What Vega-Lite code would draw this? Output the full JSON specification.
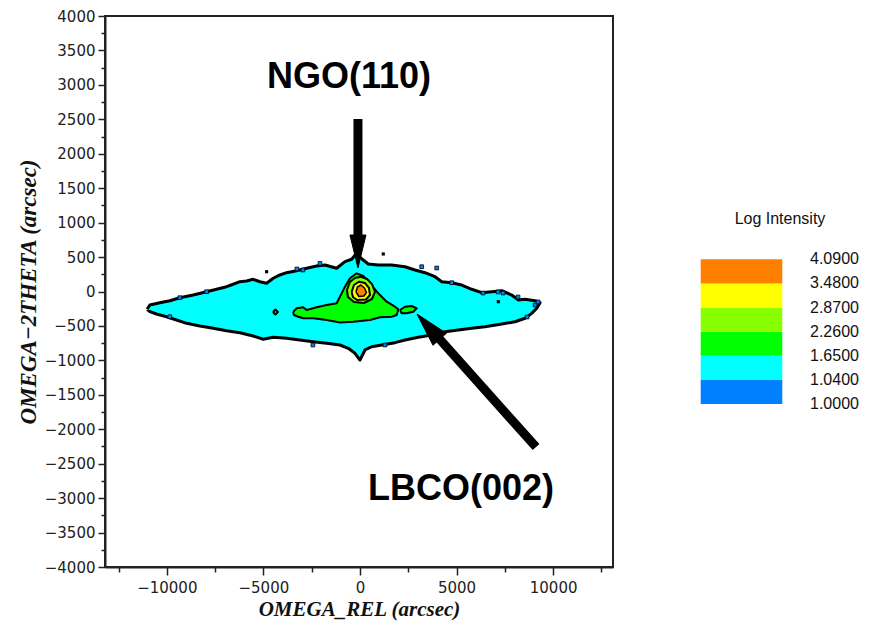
{
  "$schema": "https://vega.github.io/schema/vega-lite/v6.json",
  "width": 508,
  "height": 551,
  "autosize": {"type": "none"},
  "padding": {"left": 105, "top": 16, "right": 258, "bottom": 56},
  "background": "white",
  "config": {
    "view": {"stroke": "#222", "strokeWidth": 2},
    "axis": {
      "domainColor": "#222", "domainWidth": 2, "tickColor": "#222", "tickWidth": 1.5,
      "labelColor": "#222", "labelFont": "DejaVu Sans", "labelFontSize": 15,
      "titleFont": "Liberation Serif", "titleFontStyle": "italic", "titleFontWeight": "bold",
      "titleColor": "#111", "grid": false, "labelOverlap": false, "labelFlush": false
    }
  },
  "datasets": {
    "cyan": [
      {"o":1,"x":-11018,"y":-258},{"o":2,"x":-10878,"y":-196},{"o":3,"x":-10360,"y":-163},{"o":4,"x":-9842,"y":-134},
      {"o":5,"x":-9324,"y":-90},{"o":6,"x":-8635,"y":-51},{"o":7,"x":-7941,"y":-3},{"o":8,"x":-7423,"y":32},
      {"o":9,"x":-6905,"y":70},{"o":10,"x":-6563,"y":105},{"o":11,"x":-6216,"y":142},{"o":12,"x":-5869,"y":152},
      {"o":13,"x":-5527,"y":177},{"o":14,"x":-5180,"y":142},{"o":15,"x":-4833,"y":119},{"o":16,"x":-4491,"y":192},
      {"o":17,"x":-4144,"y":240},{"o":18,"x":-3797,"y":273},{"o":19,"x":-3279,"y":302},{"o":20,"x":-2761,"y":337},
      {"o":21,"x":-2243,"y":370},{"o":22,"x":-1813,"y":385},{"o":23,"x":-1207,"y":337},{"o":24,"x":-777,"y":433},
      {"o":25,"x":-430,"y":468},{"o":26,"x":-207,"y":545},{"o":27,"x":0,"y":501},{"o":28,"x":171,"y":457},
      {"o":29,"x":430,"y":399},{"o":30,"x":948,"y":385},{"o":31,"x":1642,"y":385},{"o":32,"x":2331,"y":360},
      {"o":33,"x":2849,"y":312},{"o":34,"x":3367,"y":273},{"o":35,"x":3885,"y":215},{"o":36,"x":4232,"y":142},
      {"o":37,"x":4750,"y":128},{"o":38,"x":5268,"y":94},{"o":39,"x":5786,"y":32},{"o":40,"x":6304,"y":-17},
      {"o":41,"x":6822,"y":-3},{"o":42,"x":7340,"y":12},{"o":43,"x":7858,"y":-51},{"o":44,"x":8200,"y":-123},
      {"o":45,"x":8547,"y":-113},{"o":46,"x":9065,"y":-134},{"o":47,"x":9324,"y":-163},{"o":48,"x":9153,"y":-244},
      {"o":49,"x":8894,"y":-317},{"o":50,"x":8547,"y":-389},{"o":51,"x":8029,"y":-439},{"o":52,"x":7340,"y":-472},
      {"o":53,"x":6475,"y":-511},{"o":54,"x":5786,"y":-534},{"o":55,"x":5092,"y":-559},{"o":56,"x":4403,"y":-584},
      {"o":57,"x":3714,"y":-632},{"o":58,"x":3020,"y":-665},{"o":59,"x":2331,"y":-704},{"o":60,"x":1813,"y":-743},
      {"o":61,"x":1124,"y":-777},{"o":62,"x":606,"y":-802},{"o":63,"x":259,"y":-849},{"o":64,"x":0,"y":-995},
      {"o":65,"x":-259,"y":-897},{"o":66,"x":-606,"y":-825},{"o":67,"x":-1036,"y":-777},{"o":68,"x":-1725,"y":-752},
      {"o":69,"x":-2419,"y":-729},{"o":70,"x":-3108,"y":-704},{"o":71,"x":-3797,"y":-680},{"o":72,"x":-4491,"y":-665},
      {"o":73,"x":-5009,"y":-694},{"o":74,"x":-5527,"y":-646},{"o":75,"x":-6216,"y":-598},{"o":76,"x":-6905,"y":-569},
      {"o":77,"x":-7599,"y":-534},{"o":78,"x":-8288,"y":-501},{"o":79,"x":-8977,"y":-462},{"o":80,"x":-9495,"y":-414},
      {"o":81,"x":-10013,"y":-366},{"o":82,"x":-10531,"y":-327},{"o":83,"x":-10878,"y":-293},{"o":84,"x":-11018,"y":-258}
    ],
    "blue": [
      {"x":-2072,"y":407},{"x":-3263,"y":327},{"x":-2953,"y":312},{"x":4750,"y":128},{"x":6371,"y":-22},
      {"x":7148,"y":-7},{"x":7407,"y":-22},{"x":8184,"y":-80},{"x":8651,"y":-370},{"x":9065,"y":-196},
      {"x":9220,"y":-152},{"x":-2435,"y":-777},{"x":1295,"y":-777},{"x":3196,"y":360},{"x":3973,"y":341},
      {"x":-9324,"y":-90},{"x":-9842,"y":-366},{"x":-7941,"y":-3}
    ],
    "specks": [
      {"x":-4833,"y":287},{"x":1207,"y":545},{"x":7164,"y":-148}
    ],
    "green": [
      {"p":"m","o":1,"x":-3455,"y":-293},{"p":"m","o":2,"x":-3279,"y":-244},{"p":"m","o":3,"x":-2937,"y":-229},
      {"p":"m","o":4,"x":-2761,"y":-269},{"p":"m","o":5,"x":-2243,"y":-229},{"p":"m","o":6,"x":-1725,"y":-196},
      {"p":"m","o":7,"x":-1207,"y":-171},{"p":"m","o":8,"x":-1036,"y":-76},{"p":"m","o":9,"x":-777,"y":70},
      {"p":"m","o":10,"x":-518,"y":192},{"p":"m","o":11,"x":-171,"y":264},{"p":"m","o":12,"x":171,"y":225},
      {"p":"m","o":13,"x":518,"y":119},{"p":"m","o":14,"x":948,"y":-26},{"p":"m","o":15,"x":1383,"y":-148},
      {"p":"m","o":16,"x":1813,"y":-221},{"p":"m","o":17,"x":1984,"y":-258},{"p":"m","o":18,"x":1901,"y":-341},
      {"p":"m","o":19,"x":1642,"y":-366},{"p":"m","o":20,"x":1036,"y":-375},{"p":"m","o":21,"x":518,"y":-414},
      {"p":"m","o":22,"x":-347,"y":-439},{"p":"m","o":23,"x":-1036,"y":-450},{"p":"m","o":24,"x":-1725,"y":-414},
      {"p":"m","o":25,"x":-2419,"y":-389},{"p":"m","o":26,"x":-2937,"y":-389},{"p":"m","o":27,"x":-3196,"y":-366},
      {"p":"m","o":28,"x":-3419,"y":-341},{"p":"m","o":29,"x":-3455,"y":-293},
      {"p":"b","o":1,"x":2072,"y":-269},{"p":"b","o":2,"x":2331,"y":-221},{"p":"b","o":3,"x":2678,"y":-211},
      {"p":"b","o":4,"x":2937,"y":-244},{"p":"b","o":5,"x":2761,"y":-293},{"p":"b","o":6,"x":2418,"y":-317},
      {"p":"b","o":7,"x":2159,"y":-317},{"p":"b","o":8,"x":2072,"y":-269},
      {"p":"d","o":1,"x":-4507,"y":-298},{"p":"d","o":2,"x":-4377,"y":-261},{"p":"d","o":3,"x":-4248,"y":-298},
      {"p":"d","o":4,"x":-4377,"y":-334},{"p":"d","o":5,"x":-4507,"y":-298}
    ],
    "yg": [
      {"o":1,"x":-673,"y":22},{"o":2,"x":-518,"y":138},{"o":3,"x":-259,"y":196},{"o":4,"x":52,"y":215},
      {"o":5,"x":363,"y":182},{"o":6,"x":622,"y":109},{"o":7,"x":777,"y":-7},{"o":8,"x":622,"y":-109},
      {"o":9,"x":207,"y":-167},{"o":10,"x":-311,"y":-152},{"o":11,"x":-622,"y":-80},{"o":12,"x":-673,"y":22}
    ],
    "yellow": [
      {"o":1,"x":-430,"y":-7},{"o":2,"x":-311,"y":94},{"o":3,"x":-52,"y":142},{"o":4,"x":259,"y":123},
      {"o":5,"x":466,"y":51},{"o":6,"x":518,"y":-51},{"o":7,"x":311,"y":-116},{"o":8,"x":-155,"y":-123},
      {"o":9,"x":-363,"y":-80},{"o":10,"x":-430,"y":-7}
    ],
    "orange": [
      {"o":1,"x":-207,"y":-7},{"o":2,"x":-130,"y":65},{"o":3,"x":52,"y":94},{"o":4,"x":233,"y":51},
      {"o":5,"x":337,"y":-15},{"o":6,"x":207,"y":-65},{"o":7,"x":-52,"y":-73},{"o":8,"x":-207,"y":-7}
    ],
    "shafts": [
      {"x":-104,"y":2505,"x2":-104,"y2":700},
      {"x":9117,"y":-2259,"x2":3854,"y2":-607}
    ],
    "heads": [
      {"p":"n","o":1,"x":-518,"y":820},{"p":"n","o":2,"x":311,"y":820},{"p":"n","o":3,"x":-104,"y":341},{"p":"n","o":4,"x":-518,"y":820},
      {"p":"l","o":1,"x":2953,"y":-327},{"p":"l","o":2,"x":4476,"y":-607},{"p":"l","o":3,"x":3781,"y":-781},{"p":"l","o":4,"x":2953,"y":-327}
    ],
    "notes": [
      {"x":-570,"y":2950,"t":"NGO(110)"},
      {"x":5232,"y":-3027,"t":"LBCO(002)"}
    ],
    "bands": [
      {"lo":0,"hi":1,"b":"1.0000-1.0400"},{"lo":1,"hi":2,"b":"1.0400-1.6500"},{"lo":2,"hi":3,"b":"1.6500-2.2600"},
      {"lo":3,"hi":4,"b":"2.2600-2.8700"},{"lo":4,"hi":5,"b":"2.8700-3.4800"},{"lo":5,"hi":6,"b":"3.4800-4.0900"}
    ],
    "ticks": [
      {"v":0,"t":"1.0000"},{"v":1,"t":"1.0400"},{"v":2,"t":"1.6500"},{"v":3,"t":"2.2600"},
      {"v":4,"t":"2.8700"},{"v":5,"t":"3.4800"},{"v":6,"t":"4.0900"}
    ],
    "ltitle": [{"t":"Log Intensity"}]
  },
  "layer": [
    {
      "encoding": {
        "x": {"field": "x", "type": "quantitative", "scale": {"domain": [-13200, 13100], "nice": false, "zero": false},
          "axis": {"title": "OMEGA_REL (arcsec)", "titleFontSize": 21, "values": [-12500,-10000,-7500,-5000,-2500,0,2500,5000,7500,10000,12500],
            "format": "d", "labelExpr": "datum.value % 5000 === 0 ? datum.label : ''",
            "tickSize": {"condition": {"test": "datum.value % 5000 === 0", "value": 8}, "value": 5},
            "labelPadding": 5, "titlePadding": 3}},
        "y": {"field": "y", "type": "quantitative", "scale": {"domain": [-4000, 4000], "nice": false, "zero": false},
          "axis": {"title": "OMEGA−2THETA (arcsec)", "titleFontSize": 23,
            "values": [-4000,-3750,-3500,-3250,-3000,-2750,-2500,-2250,-2000,-1750,-1500,-1250,-1000,-750,-500,-250,0,250,500,750,1000,1250,1500,1750,2000,2250,2500,2750,3000,3250,3500,3750,4000],
            "format": "d", "labelExpr": "datum.value % 500 === 0 ? datum.label : ''",
            "tickSize": {"condition": {"test": "datum.value % 500 === 0", "value": 7}, "value": 4},
            "labelPadding": 3, "titlePadding": 4}}
      },
      "layer": [
        {
          "data": {"name": "cyan"},
          "mark": {"type": "line", "fill": "#00ffff", "stroke": "#000", "strokeWidth": 3, "strokeJoin": "round"},
          "encoding": {"order": {"field": "o", "type": "quantitative"}}
        },
        {
          "data": {"name": "blue"},
          "mark": {"type": "point", "shape": "square", "filled": true, "fill": "#0080ff", "stroke": "#000", "strokeWidth": 0.8, "size": 14, "opacity": 1}
        },
        {
          "data": {"name": "specks"},
          "mark": {"type": "point", "shape": "square", "filled": true, "fill": "#000", "size": 10, "opacity": 1}
        },
        {
          "data": {"name": "green"},
          "mark": {"type": "line", "fill": "#00ff00", "stroke": "#000", "strokeWidth": 2, "strokeJoin": "round"},
          "encoding": {"order": {"field": "o", "type": "quantitative"}, "detail": {"field": "p"}}
        },
        {
          "data": {"name": "yg"},
          "mark": {"type": "line", "fill": "#88ff00", "stroke": "#000", "strokeWidth": 2, "strokeJoin": "round"},
          "encoding": {"order": {"field": "o", "type": "quantitative"}}
        },
        {
          "data": {"name": "yellow"},
          "mark": {"type": "line", "fill": "#ffff00", "stroke": "#000", "strokeWidth": 2, "strokeJoin": "round"},
          "encoding": {"order": {"field": "o", "type": "quantitative"}}
        },
        {
          "data": {"name": "orange"},
          "mark": {"type": "line", "fill": "#ff8000", "stroke": "#000", "strokeWidth": 1.5, "strokeJoin": "round"},
          "encoding": {"order": {"field": "o", "type": "quantitative"}}
        },
        {
          "data": {"name": "shafts"},
          "mark": {"type": "rule", "color": "#000", "strokeWidth": 9, "strokeCap": "butt"},
          "encoding": {"x2": {"field": "x2"}, "y2": {"field": "y2"}}
        },
        {
          "data": {"name": "heads"},
          "mark": {"type": "line", "fill": "#000", "stroke": "#000", "strokeWidth": 1, "strokeJoin": "miter"},
          "encoding": {"order": {"field": "o", "type": "quantitative"}, "detail": {"field": "p"}}
        },
        {
          "data": {"name": "notes"},
          "mark": {"type": "text", "font": "Liberation Sans", "fontWeight": "bold", "fontSize": 36, "align": "center", "baseline": "alphabetic", "color": "#000"},
          "encoding": {"text": {"field": "t"}}
        }
      ]
    },
    {
      "layer": [
        {
          "data": {"name": "bands"},
          "mark": {"type": "rect"},
          "encoding": {
            "y": {"field": "lo", "type": "quantitative", "scale": {"domain": [-6.759, 16.089], "nice": false, "zero": false}, "axis": null},
            "y2": {"field": "hi"},
            "x": {"datum": 0, "type": "quantitative", "scale": {"domain": [-7.3002, -1.0747], "nice": false, "zero": false}, "axis": null},
            "x2": {"datum": 1},
            "color": {"field": "b", "type": "nominal", "legend": null,
              "scale": {"domain": ["1.0000-1.0400","1.0400-1.6500","1.6500-2.2600","2.2600-2.8700","2.8700-3.4800","3.4800-4.0900"],
                "range": ["#0080ff","#00ffff","#00ff00","#88ff00","#ffff00","#ff8000"]}}
          }
        },
        {
          "data": {"name": "ticks"},
          "mark": {"type": "text", "font": "Liberation Sans", "fontSize": 16, "align": "left", "baseline": "middle", "color": "#111"},
          "encoding": {
            "y": {"field": "v", "type": "quantitative", "scale": {"domain": [-6.759, 16.089], "nice": false, "zero": false}, "axis": null},
            "x": {"datum": 1.3395, "type": "quantitative", "scale": {"domain": [-7.3002, -1.0747], "nice": false, "zero": false}, "axis": null},
            "text": {"field": "t"}
          }
        },
        {
          "data": {"name": "ltitle"},
          "mark": {"type": "text", "font": "Liberation Sans", "fontSize": 16, "align": "center", "baseline": "alphabetic", "color": "#111"},
          "encoding": {
            "y": {"datum": 7.464, "type": "quantitative", "scale": {"domain": [-6.759, 16.089], "nice": false, "zero": false}, "axis": null},
            "x": {"datum": 0.9718, "type": "quantitative", "scale": {"domain": [-7.3002, -1.0747], "nice": false, "zero": false}, "axis": null},
            "text": {"field": "t"}
          }
        }
      ]
    }
  ],
  "resolve": {"scale": {"x": "independent", "y": "independent", "color": "independent"}}
}
